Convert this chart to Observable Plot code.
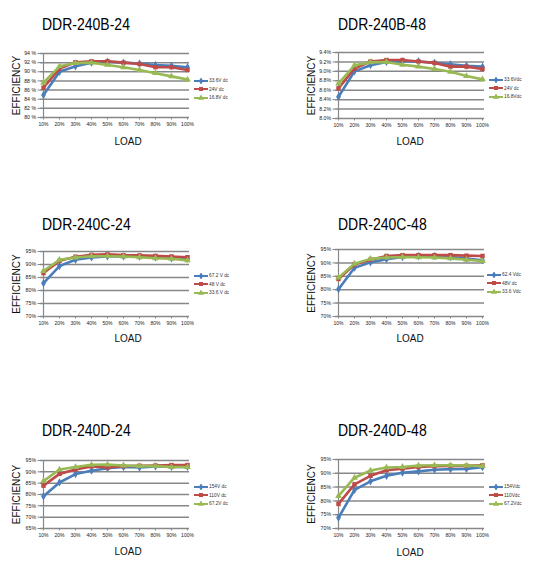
<!DOCTYPE html>
<html>
<head>
<meta charset="utf-8">
<script src="https://cdn.jsdelivr.net/npm/d3@7"></script>
<script src="https://cdn.jsdelivr.net/npm/@observablehq/plot@0.6"></script>
<style>
  body { margin: 0; background: #fff; font-family: "Liberation Sans", Arial, sans-serif; }
  #page { position: relative; width: 550px; height: 578px; overflow: hidden; }
  .title { position: absolute; font-size: 14px; color: #000; white-space: nowrap; transform: scaleY(1.2); transform-origin: 0 0; }
  .load { position: absolute; font-size: 10px; color: #111; transform: translateX(-50%) scaleY(1.15); }
  .legend { position: absolute; font-size: 4.8px; color: #333; line-height: 8.6px; white-space: nowrap; }
  .legend svg { vertical-align: middle; margin-right: 1px; }
  .panel { position: absolute; }
  .panel [aria-label="y-axis label"] text { font-size: 10px; fill: #111; }
</style>
</head>
<body>
<div id="page"></div>
<script>
// load points on the x axis
const loads = ["10%", "20%", "30%", "40%", "50%", "60%", "70%", "80%", "90%", "100%"]
const colors = ["#4a7ebb", "#be4b48", "#98b954"]
const symbols = ["diamond", "square", "triangle"]

// DDR-240B-24
const b24Names = ["33.6V dc", "24V dc", "16.8V dc"]
const b24Blue = [84.9, 90.0, 91.2, 92.0, 92.2, 92.0, 91.8, 91.5, 91.3, 91.0]
const b24Red = [86.5, 90.7, 92.1, 92.3, 92.3, 92.0, 91.7, 91.0, 91.0, 90.4]
const b24Green = [87.6, 91.2, 91.9, 92.0, 91.5, 91.0, 90.4, 89.7, 89.0, 88.3]
const b24Ticks = [80, 82, 84, 86, 88, 90, 92, 94]
const b24TickLabels = ["80 %", "82 %", "84 %", "86 %", "88 %", "90 %", "92 %", "94 %"]

// DDR-240B-48
const b48Names = ["33.6Vdc", "24V dc", "16.8Vdc"]
const b48Blue = [84.6, 90.0, 91.3, 92.0, 92.1, 92.1, 91.8, 91.5, 91.2, 91.0]
const b48Red = [86.4, 90.6, 92.1, 92.4, 92.4, 92.1, 91.8, 91.0, 91.0, 90.5]
const b48Green = [87.4, 91.3, 91.9, 92.0, 91.4, 91.0, 90.5, 89.9, 89.0, 88.3]
const b48Ticks = [80, 82, 84, 86, 88, 90, 92, 94]
const b48TickLabels = ["8.0%", "8.2%", "8.4%", "8.6%", "8.8%", "9.0%", "9.2%", "9.4%"]

// DDR-240C-24
const c24Names = ["67.2 V dc", "48 V dc", "33.6 V dc"]
const c24Blue = [82.8, 89.4, 91.8, 92.7, 93.1, 93.1, 93.0, 92.7, 92.4, 92.2]
const c24Red = [86.7, 91.4, 93.0, 93.7, 93.9, 93.6, 93.5, 93.3, 93.1, 92.8]
const c24Green = [87.5, 91.8, 92.7, 93.2, 93.2, 93.1, 92.8, 92.4, 92.2, 91.6]
const c24Ticks = [70, 75, 80, 85, 90, 95]
const c24TickLabels = ["70%", "75%", "80%", "85%", "90%", "95%"]

// DDR-240C-48
const c48Names = ["62.4 Vdc", "48V dc", "33.6 Vdc"]
const c48Blue = [80.2, 88.2, 90.2, 91.4, 92.2, 92.5, 92.5, 92.2, 91.6, 91.0]
const c48Red = [84.0, 89.4, 91.2, 92.6, 92.9, 92.9, 92.9, 92.9, 92.7, 92.6]
const c48Green = [84.5, 89.7, 91.5, 92.0, 92.2, 92.1, 92.0, 91.7, 91.2, 90.7]
const c48Ticks = [70, 75, 80, 85, 90, 95]
const c48TickLabels = ["70%", "75%", "80%", "85%", "90%", "95%"]

// DDR-240D-24
const d24Names = ["154V dc", "110V dc", "67.2V dc"]
const d24Blue = [79.2, 85.3, 89.0, 90.5, 91.6, 92.1, 91.9, 92.4, 92.2, 92.2]
const d24Red = [83.9, 89.1, 91.0, 92.4, 91.9, 92.5, 92.7, 92.8, 93.0, 93.0]
const d24Green = [85.9, 91.0, 92.1, 93.1, 93.2, 92.8, 92.5, 92.5, 92.1, 92.1]
const d24Ticks = [65, 70, 75, 80, 85, 90, 95]
const d24TickLabels = ["65%", "70%", "75%", "80%", "85%", "90%", "95%"]

// DDR-240D-48
const d48Names = ["154Vdc", "110Vdc", "67.2Vdc"]
const d48Blue = [73.9, 84.0, 87.1, 89.1, 90.2, 90.7, 91.3, 91.5, 91.6, 92.2]
const d48Red = [78.9, 86.0, 89.1, 91.1, 91.7, 92.3, 92.6, 92.7, 92.7, 92.9]
const d48Green = [81.8, 88.4, 91.0, 92.1, 92.3, 92.8, 92.9, 92.9, 92.8, 92.6]
const d48Ticks = [70, 75, 80, 85, 90, 95]
const d48TickLabels = ["70%", "75%", "80%", "85%", "90%", "95%"]

const panels = [
  {title: "DDR-240B-24", names: b24Names, series: [b24Blue, b24Red, b24Green], ticks: b24Ticks, labels: b24TickLabels,
   x: 0, y: 45, h: 64, tx: 42, ty: 14, lx: 128, ly: 135, gx: 194, gy: 77},
  {title: "DDR-240B-48", names: b48Names, series: [b48Blue, b48Red, b48Green], ticks: b48Ticks, labels: b48TickLabels,
   x: 295, y: 44, h: 66, tx: 338, ty: 14, lx: 410, ly: 135, gx: 489, gy: 76},
  {title: "DDR-240C-24", names: c24Names, series: [c24Blue, c24Red, c24Green], ticks: c24Ticks, labels: c24TickLabels,
   x: 0, y: 243, h: 65, tx: 42, ty: 214, lx: 128, ly: 332, gx: 194, gy: 272},
  {title: "DDR-240C-48", names: c48Names, series: [c48Blue, c48Red, c48Green], ticks: c48Ticks, labels: c48TickLabels,
   x: 295, y: 241, h: 67, tx: 338, ty: 214, lx: 410, ly: 332, gx: 487, gy: 271},
  {title: "DDR-240D-24", names: d24Names, series: [d24Blue, d24Red, d24Green], ticks: d24Ticks, labels: d24TickLabels,
   x: 0, y: 452, h: 68, tx: 42, ty: 420, lx: 128, ly: 545, gx: 194, gy: 483},
  {title: "DDR-240D-48", names: d48Names, series: [d48Blue, d48Red, d48Green], ticks: d48Ticks, labels: d48TickLabels,
   x: 295, y: 451, h: 69, tx: 338, ty: 420, lx: 410, ly: 546, gx: 489, gy: 483}
]

const page = d3.select('#page')

panels.forEach(p => {
  const marks = [
    Plot.ruleY(p.ticks, {stroke: "#878787", strokeWidth: 1.5}),
    Plot.ruleX([loads[0]], {stroke: "#878787", strokeWidth: 1.2}),
    Plot.axisX({tickSize: 2.5, tickPadding: 2, stroke: "#878787", fontSize: 5, fill: "#222"}),
    Plot.axisY(p.ticks, {tickSize: 2.5, tickPadding: 2, stroke: "#878787", fontSize: 5.2, fill: "#222",
      tickFormat: d => p.labels[p.ticks.indexOf(d)], label: "EFFICIENCY", labelAnchor: "center", labelOffset: 28, labelArrow: "none"})
  ]
  // each series drawn as line plus markers, in the original order
  p.series.forEach((vals, k) => {
    const rows = vals.map((v, i) => ({load: loads[i], eff: v, s: p.names[k]}))
    marks.push(Plot.line(rows, {x: "load", y: "eff", stroke: colors[k], strokeWidth: 2.6}))
    marks.push(Plot.dot(rows, {x: "load", y: "eff", fill: colors[k], symbol: () => symbols[k], r: 2.5}))
  })

  const chart = Plot.plot({
    width: 195,
    height: p.h + 22,
    marginLeft: 40,
    marginRight: 6,
    marginTop: 8,
    marginBottom: 14,
    style: {background: "white", fontFamily: "Liberation Sans, Arial, sans-serif", overflow: "visible"},
    x: {type: "point", domain: loads, padding: 0, label: null},
    y: {domain: [p.ticks[0], p.ticks[p.ticks.length - 1]]},
    symbol: {domain: symbols, range: symbols},
    marks
  })

  page.append('div').attr('class', 'panel')
    .style('left', p.x + 'px').style('top', p.y + 'px')
    .append(() => chart)

  page.append('div').attr('class', 'title')
    .style('left', p.tx + 'px').style('top', p.ty + 'px')
    .text(p.title)

  page.append('div').attr('class', 'load')
    .style('left', p.lx + 'px').style('top', p.ly + 'px')
    .text('LOAD')

  const legend = page.append('div').attr('class', 'legend')
    .style('left', p.gx + 'px').style('top', p.gy + 'px')
  p.names.forEach((n, k) => {
    const row = legend.append('div')
    const sw = row.append('svg').attr('width', 14).attr('height', 6)
    sw.append('line').attr('x1', 0).attr('x2', 14).attr('y1', 3).attr('y2', 3)
      .attr('stroke', colors[k]).attr('stroke-width', 2)
    sw.append('path').attr('transform', 'translate(7,3)')
      .attr('d', d3.symbol(k === 0 ? d3.symbolDiamond : k === 1 ? d3.symbolSquare : d3.symbolTriangle, 16)())
      .attr('fill', colors[k])
    row.append('span').text(n)
  })
})
</script>
</body>
</html>
